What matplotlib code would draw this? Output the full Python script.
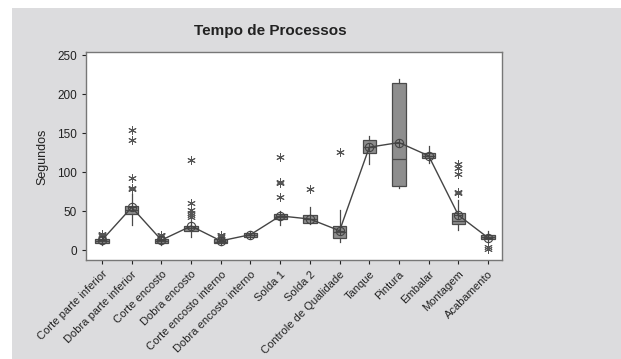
import numpy as np
import matplotlib
matplotlib.use('Agg')
import matplotlib.pyplot as plt
from matplotlib.patches import Rectangle

plt.rcParams['font.family'] = ['Liberation Sans Narrow', 'Liberation Sans', 'DejaVu Sans']

# process names and time summaries (seconds)
processos = ['Corte parte inferior', 'Dobra parte inferior', 'Corte encosto',
             'Dobra encosto', 'Corte encosto interno', 'Dobra encosto interno',
             'Solda 1', 'Solda 2', 'Controle de Qualidade', 'Tanque', 'Pintura',
             'Embalar', 'Montagem', 'Acabamento']
q1 = [9, 46, 9, 25, 9, 17, 40, 35, 16, 125, 82, 118, 33, 14]
mediana = [12, 51, 12, 28, 11, 20, 42, 40, 23, 132, 117, 121, 38, 17]
q3 = [15, 57, 15, 31, 14, 22, 46, 45, 31, 141, 214, 125, 48, 20]
whis_min = [7, 32, 7, 17, 7, 16, 32, 33, 10, 111, 80, 112, 26, 12]
whis_max = [17, 72, 17, 40, 16, 25, 50, 55, 51, 146, 219, 133, 65, 25]
media = [13, 55, 13, 31, 12, 20, 44, 40, 25, 132, 138, 121, 45, 16]
outliers = [
    [18, 19, 20, 21],
    [78, 80, 93, 141, 154],
    [18, 19, 20],
    [42, 45, 48, 51, 61, 115],
    [17, 18, 19, 20],
    [],
    [68, 86, 87, 119],
    [78],
    [126],
    [],
    [],
    [],
    [73, 75, 98, 105, 111],
    [1.5, 4],
]

fig = plt.figure(figsize=(6.21, 3.59), dpi=100)
fig.patch.set_facecolor('white')
fig.patches.append(Rectangle((12 / 621, 0), 1, 1 - 8 / 359, transform=fig.transFigure,
                             facecolor='#dcdcde', edgecolor='none', zorder=-10))

ax = fig.add_axes([86 / 621, 1 - 260 / 359, 416 / 621, 208 / 359])
ax.set_facecolor('white')

stats = []
for i in range(len(processos)):
    stats.append(dict(q1=q1[i], med=mediana[i], q3=q3[i], whislo=whis_min[i],
                      whishi=whis_max[i], mean=media[i], fliers=outliers[i],
                      label=processos[i]))

pos = np.arange(1, len(processos) + 1)
ax.bxp(stats, positions=pos, widths=0.45, patch_artist=True, showcaps=False,
       boxprops=dict(facecolor='#8e8e8e', edgecolor='#4a4a4a', linewidth=0.9),
       medianprops=dict(color='#4a4a4a', linewidth=0.9),
       whiskerprops=dict(color='#4a4a4a', linewidth=0.9),
       flierprops=dict(marker=(6, 2, 0), markeredgecolor='#555555', markersize=6,
                       markeredgewidth=0.7, linestyle='none'))

# mean connect line and mean symbols
ax.plot(pos, media, color='#444444', linewidth=1, zorder=4)
ax.plot(pos, media, linestyle='none', marker='o', markersize=6, markerfacecolor='none',
        markeredgecolor='#444444', markeredgewidth=0.8, zorder=5)
ax.plot(pos, media, linestyle='none', marker='+', markersize=6,
        markeredgecolor='#444444', markeredgewidth=0.8, zorder=5)

ax.set_xlim(0.46, 14.47)
ax.set_ylim(-12.5, 254)
ax.set_yticks([0, 50, 100, 150, 200, 250])
ax.set_xticks(pos)
ax.set_xticklabels(processos, rotation=45, ha='right', rotation_mode='anchor', fontsize=8)
ax.tick_params(axis='both', colors='#222222', length=3, width=0.8, labelsize=8.5)
ax.tick_params(axis='x', labelsize=8)
for s in ax.spines.values():
    s.set_color('#777777')
    s.set_linewidth(1)

ax.set_ylabel('Segundos', fontsize=9, color='#222222')
ax.yaxis.set_label_coords(-0.091, 0.495)
fig.text(270 / 621, 1 - 31 / 359, 'Tempo de Processos', ha='center', va='center',
         fontsize=11, fontweight='bold', family=['Liberation Sans', 'DejaVu Sans'], color='#222222')

fig.savefig('out.png', dpi=100)
